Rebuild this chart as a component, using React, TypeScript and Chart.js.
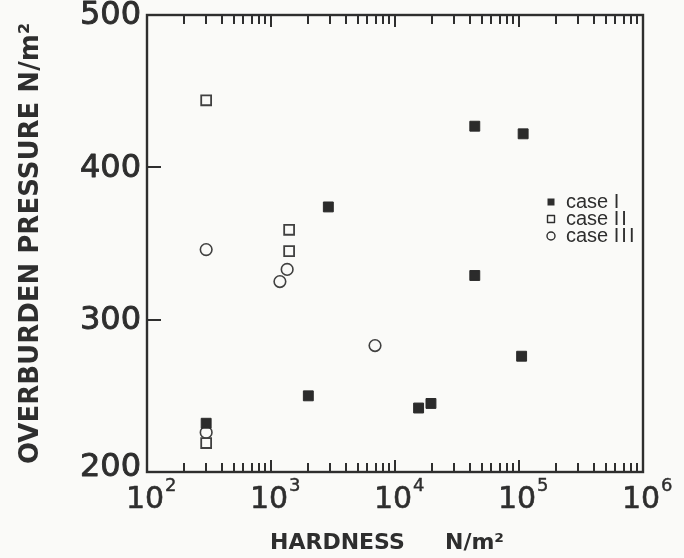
import React, { useEffect, useRef } from "react";
import { Chart, registerables } from "chart.js";

Chart.register(...registerables);

// ---- data ----
const caseIHardness = [300, 2000, 2900, 15500, 19500, 44000, 44000, 108000, 105000];
const caseIPressure = [232, 250, 374, 242, 245, 427, 329, 422, 276];
const caseIIHardness = [300, 1400, 1400, 300];
const caseIIPressure = [444, 359, 345, 219];
const caseIIIHardness = [300, 1350, 1180, 6900, 300];
const caseIIIPressure = [346, 333, 325, 283, 226];

const seriesWord = "case";
const seriesNumerals = ["I", "II", "III"];
const seriesNames = seriesNumerals.map((n) => `${seriesWord} ${n}`);
const xDecades = [100, 1000, 10000, 100000, 1000000];
const xExponents = ["2", "3", "4", "5", "6"];
const yTickValues = [200, 300, 400, 500];
const yInnerTicks = [300, 400];
const yTitle = "OVERBURDEN PRESSURE N/m²";
const xTitle = "HARDNESS";
const xUnit = "N/m²";

const INK = "#2e2e2e";
const BG = "#fafaf8";

function toPoints(xs: number[], ys: number[]) {
  return xs.map((x, i) => ({ x, y: ys[i] }));
}

function heavyText(ctx: CanvasRenderingContext2D, s: string, x: number, y: number, w: number) {
  ctx.fillText(s, x, y);
  ctx.lineWidth = w;
  ctx.strokeText(s, x, y);
}

const decorPlugin = {
  id: "decor",
  beforeDraw(chart: any) {
    const ctx = chart.ctx;
    ctx.save();
    ctx.fillStyle = BG;
    ctx.fillRect(0, 0, chart.width, chart.height);
    ctx.restore();
  },
  beforeDatasetsDraw(chart: any) {
    const { ctx, chartArea } = chart;
    const { left, right, top, bottom } = chartArea;
    const xs = chart.scales.x;
    const ys = chart.scales.y;
    ctx.save();
    ctx.strokeStyle = INK;
    ctx.lineWidth = 2.4;
    ctx.strokeRect(left, top, right - left, bottom - top);

    ctx.lineWidth = 2;
    ctx.beginPath();
    for (let d = 0; d < xDecades.length - 1; d++) {
      const base = xDecades[d];
      for (let k = 2; k <= 10; k++) {
        const v = base * k;
        const px = Math.round(xs.getPixelForValue(v));
        const major = k === 10 && d < xDecades.length - 2;
        if (k === 10 && !major) continue;
        const len = major ? 12 : 9;
        ctx.moveTo(px, bottom);
        ctx.lineTo(px, bottom - len);
        ctx.moveTo(px, top);
        ctx.lineTo(px, top + len);
      }
    }
    for (const v of yInnerTicks) {
      const py = Math.round(ys.getPixelForValue(v));
      ctx.moveTo(left, py);
      ctx.lineTo(left + 14, py);
    }
    ctx.stroke();
    ctx.restore();
  },
  afterDraw(chart: any) {
    const { ctx, chartArea } = chart;
    const { left, top, bottom } = chartArea;
    const xs = chart.scales.x;
    const ys = chart.scales.y;
    ctx.save();
    ctx.fillStyle = INK;
    ctx.strokeStyle = INK;
    ctx.lineJoin = "round";

    // y tick labels
    ctx.font = "32px 'DejaVu Sans'";
    ctx.textAlign = "right";
    ctx.textBaseline = "middle";
    for (const v of yTickValues) {
      const py = ys.getPixelForValue(v);
      const shift = v === yTickValues[0] ? -4 : 1;
      heavyText(ctx, String(v), left - 6, py + shift, 0.9);
    }

    // x tick labels with superscript exponents
    ctx.textBaseline = "alphabetic";
    for (let i = 0; i < xDecades.length; i++) {
      const px = xs.getPixelForValue(xDecades[i]);
      ctx.font = "30px 'DejaVu Sans'";
      const w = ctx.measureText("10").width;
      const x0 = px - 2 - w / 2;
      ctx.textAlign = "left";
      heavyText(ctx, "10", x0, bottom + 36, 0.6);
      ctx.font = "18px 'DejaVu Sans'";
      heavyText(ctx, xExponents[i], x0 + w + 1, bottom + 19, 0.4);
    }

    // axis titles
    ctx.font = "bold 22px 'DejaVu Sans'";
    ctx.textAlign = "left";
    ctx.textBaseline = "alphabetic";
    ctx.fillText(xTitle, 270, 549);
    ctx.fillText(xUnit, 445, 549);

    ctx.save();
    ctx.translate(38, (top + bottom) / 2);
    ctx.rotate(-Math.PI / 2);
    ctx.textAlign = "center";
    ctx.textBaseline = "alphabetic";
    ctx.font = "bold 26px 'DejaVu Sans'";
    ctx.fillText(yTitle, 0, 0);
    ctx.restore();

    // legend inside the plot
    const rows = [202, 219, 236];
    const mx = 551;
    ctx.textAlign = "left";
    ctx.textBaseline = "middle";
    ctx.lineWidth = 1.4;
    rows.forEach((ry, i) => {
      if (i === 0) {
        ctx.fillRect(mx - 3.5, ry - 3.5, 7, 7);
      } else if (i === 1) {
        ctx.strokeRect(mx - 3.5, ry - 3.5, 7, 7);
      } else {
        ctx.beginPath();
        ctx.arc(mx, ry, 4, 0, Math.PI * 2);
        ctx.stroke();
      }
      ctx.font = "20px 'Liberation Sans'";
      (ctx as any).letterSpacing = "0px";
      ctx.fillText(seriesWord, mx + 15, ry);
      const ww = ctx.measureText(seriesWord + " ").width;
      (ctx as any).letterSpacing = "2px";
      ctx.fillText(seriesNumerals[i], mx + 15 + ww, ry);
      (ctx as any).letterSpacing = "0px";
    });
    ctx.restore();
  },
};

export default function App() {
  const ref = useRef<HTMLCanvasElement | null>(null);
  useEffect(() => {
    document.body.style.margin = "0";
    document.body.style.background = BG;
    if (!ref.current) return;
    const chart = new Chart(ref.current, {
      type: "scatter",
      data: {
        datasets: [
          {
            label: seriesNames[0],
            data: toPoints(caseIHardness, caseIPressure),
            pointStyle: "rect",
            pointRadius: 7,
            backgroundColor: "#2b2b2b",
            borderColor: "#2b2b2b",
            borderWidth: 1,
          },
          {
            label: seriesNames[1],
            data: toPoints(caseIIHardness, caseIIPressure),
            pointStyle: "rect",
            pointRadius: 7,
            backgroundColor: "rgba(0,0,0,0)",
            borderColor: "#404040",
            borderWidth: 1.8,
          },
          {
            label: seriesNames[2],
            data: toPoints(caseIIIHardness, caseIIIPressure),
            pointStyle: "circle",
            pointRadius: 5.8,
            backgroundColor: "rgba(0,0,0,0)",
            borderColor: "#404040",
            borderWidth: 1.6,
          },
        ],
      },
      options: {
        responsive: false,
        animation: false,
        events: [],
        layout: { padding: { left: 147, top: 15, right: 41, bottom: 86 } },
        plugins: {
          legend: { display: false },
          tooltip: { enabled: false },
          title: { display: false },
        },
        scales: {
          x: { type: "logarithmic", min: 100, max: 1000000, display: false },
          y: { type: "linear", min: 200, max: 500, display: false },
        },
      },
      plugins: [decorPlugin],
    });
    return () => chart.destroy();
  }, []);
  return (
    <div style={{ width: 684, height: 558 }}>
      <canvas ref={ref} width={684} height={558} style={{ width: 684, height: 558, display: "block" }} />
    </div>
  );
}
